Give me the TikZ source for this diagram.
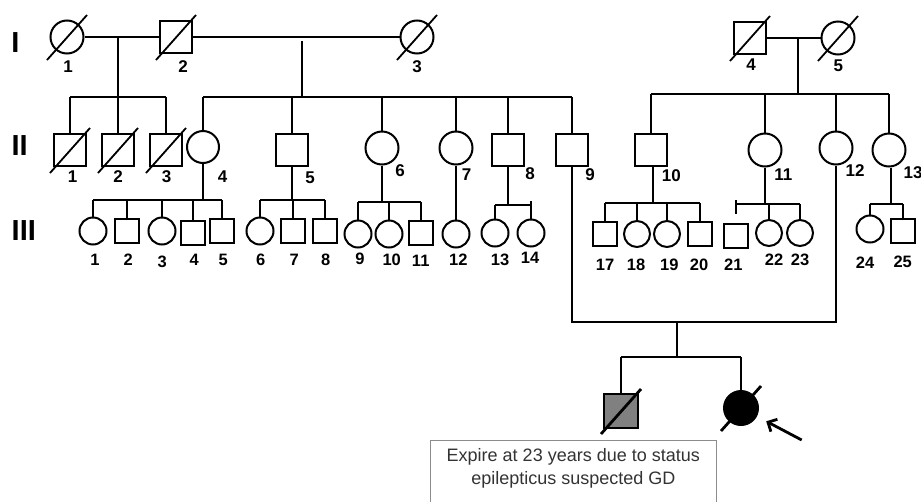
\documentclass[tikz,border=0pt]{standalone}
\usepackage{fontspec}
\setmainfont{Liberation Sans}
\usetikzlibrary{arrows.meta}
\newcommand\dslash[2][1.8pt]{\draw[line width=#1] ([shift={(-20,23)}]#2.center) -- ([shift={(20,-22)}]#2.center);}
\begin{document}
\begin{tikzpicture}[x=1pt,y=-1pt, line width=2pt,
 male/.style={draw, rectangle, minimum size=#1, inner sep=0pt},
 female/.style={draw, circle, minimum size=#1, inner sep=0pt},
 lab/.style={font=\fontsize{17}{17}\selectfont\bfseries, inner sep=0pt},
 labs/.style={font=\fontsize{16.5}{17}\selectfont\bfseries, inner sep=0pt},
 gen/.style={font=\fontsize{29}{29}\selectfont\bfseries, inner sep=0pt},
 boxline/.style={draw=black!45, line width=1pt},
 notetxt/.style={font=\fontsize{18}{22.5}\selectfont, text=black!80, align=center, inner sep=0pt},
 ]
\useasboundingbox (0,0) rectangle (921,501);

% generation labels
\node[gen] (gI) at (15.5,43) {I};
\node[gen] (gII) at (19.7,146) {II};
\node[gen] (gIII) at (23.8,231) {III};

% Generation I
\node[female=33] (I1) at (67,37) {};
\node[male=32] (I2) at (176,37) {};
\node[female=33] (I3) at (417,37) {};
\node[male=32] (I4) at (750,38) {};
\node[female=33] (I5) at (838,38) {};
\dslash{I1}\dslash{I2}\dslash{I3}\dslash{I4}\dslash{I5}
\node[lab] (tI1) at (68,67) {1};
\node[lab] (tI2) at (183,67) {2};
\node[lab] (tI3) at (417,67) {3};
\node[lab] (tI4) at (751,65) {4};
\node[lab] (tI5) at (838.3,66) {5};

% Generation II
\node[male=32] (II1) at (70,150) {};
\node[male=32] (II2) at (118,150) {};
\node[male=32] (II3) at (166,150) {};
\node[female=32] (II4) at (203,147) {};
\node[male=32] (II5) at (292,150) {};
\node[female=33] (II6) at (382,148) {};
\node[female=33] (II7) at (456,148) {};
\node[male=32] (II8) at (508,150) {};
\node[male=32] (II9) at (572,150) {};
\node[male=32] (II10) at (651,150) {};
\node[female=33] (II11) at (765,150) {};
\node[female=33] (II12) at (836,148) {};
\node[female=33] (II13) at (889,150) {};
\dslash{II1}\dslash{II2}\dslash{II3}
\node[lab] (tII1) at (72.7,177) {1};
\node[lab] (tII2) at (118,177) {2};
\node[lab] (tII3) at (166.7,177) {3};
\node[lab] (tII4) at (222.5,177) {4};
\node[lab] (tII5) at (310,177.3) {5};
\node[lab] (tII6) at (400,171) {6};
\node[lab] (tII7) at (466.7,175) {7};
\node[lab] (tII8) at (530,173.3) {8};
\node[lab] (tII9) at (590,175) {9};
\node[lab] (tII10) at (671.3,176) {10};
\node[lab] (tII11) at (783.3,174.3) {11};
\node[lab] (tII12) at (855,171) {12};
\node[lab] (tII13) at (913,173) {13};

% Generation III
\node[female=27] (III1) at (93,231) {};
\node[male=24] (III2) at (127,231) {};
\node[female=27] (III3) at (162,231) {};
\node[male=24] (III4) at (193,233) {};
\node[male=24] (III5) at (222,231) {};
\node[female=27] (III6) at (260,231) {};
\node[male=24] (III7) at (293,231) {};
\node[male=24] (III8) at (325,231) {};
\node[female=27] (III9) at (358,234) {};
\node[female=27] (III10) at (389,234) {};
\node[male=24] (III11) at (421,233) {};
\node[female=27] (III12) at (456,234) {};
\node[female=27] (III13) at (495,233) {};
\node[female=27] (III14) at (531,233) {};
\node[male=24] (III17) at (605,234) {};
\node[female=26] (III18) at (637,234) {};
\node[female=26] (III19) at (667,234) {};
\node[male=24] (III20) at (700,234) {};
\node[male=24] (III21) at (736,236) {};
\node[female=26] (III22) at (769,233) {};
\node[female=26] (III23) at (800,233) {};
\node[female=27] (III24) at (870,229) {};
\node[male=24] (III25) at (903,231) {};
\node[labs] (tIII1) at (95,260) {1};
\node[labs] (tIII2) at (128.3,260) {2};
\node[labs] (tIII3) at (162.3,262) {3};
\node[labs] (tIII4) at (194.3,260) {4};
\node[labs] (tIII5) at (223.3,260) {5};
\node[labs] (tIII6) at (260.7,260) {6};
\node[labs] (tIII7) at (294.3,260) {7};
\node[labs] (tIII8) at (325.7,260) {8};
\node[labs] (tIII9) at (360,259) {9};
\node[labs] (tIII10) at (391.7,260) {10};
\node[labs] (tIII11) at (420.7,261) {11};
\node[labs] (tIII12) at (458.3,260) {12};
\node[labs] (tIII13) at (500,260) {13};
\node[labs] (tIII14) at (530,258) {14};
\node[labs] (tIII17) at (605,265) {17};
\node[labs] (tIII18) at (636,265) {18};
\node[labs] (tIII19) at (669.3,265) {19};
\node[labs] (tIII20) at (699,265) {20};
\node[labs] (tIII21) at (733.3,265) {21};
\node[labs] (tIII22) at (774,260) {22};
\node[labs] (tIII23) at (800,260) {23};
\node[labs] (tIII24) at (865,263) {24};
\node[labs] (tIII25) at (902.7,262) {25};

% Generation IV
\node[male=34, fill=black!50] (IV1) at (621,411) {};
\node[female=34, fill=black] (IV2) at (741,408) {};
\dslash[2.8pt]{IV1}\dslash[2.8pt]{IV2}

% marriages and sibships, gen I
\draw (I1) -- (I2);
\draw (I2) -- (I3);
\draw (I4) -- (I5);
\coordinate (m12) at (118,37);
\coordinate (s12) at (118,97);
\draw (m12) -- (s12);
\draw (II1.north |- s12) -- (II3.north |- s12);
\foreach \c in {II1,II2,II3} \draw (\c.north |- s12) -- (\c.north);
\coordinate (m23) at (302,41);
\coordinate (s23) at (302,97);
\draw (m23) -- (s23);
\draw (II4.north |- s23) -- (II9.north |- s23);
\foreach \c in {II4,II5,II6,II7,II8,II9} \draw (\c.north |- s23) -- (\c.north);
\coordinate (m45) at (798,38);
\coordinate (s45) at (798,94);
\draw (m45) -- (s45);
\draw (II10.north |- s45) -- (II13.north |- s45);
\foreach \c in {II10,II11,II12,II13} \draw (\c.north |- s45) -- (\c.north);

% sibships gen III
\coordinate (s4) at (203,200);
\draw (II4.south) -- (s4);
\draw (III1.north |- s4) -- (III5.north |- s4);
\foreach \c in {III1,III2,III3,III4,III5} \draw (\c.north |- s4) -- (\c.north);
\coordinate (s5) at (292,200);
\draw (II5.south) -- (s5);
\draw (III6.north |- s5) -- (III8.north |- s5);
\foreach \c in {III6,III7,III8} \draw (\c.north |- s5) -- (\c.north);
\coordinate (s6) at (382,202);
\draw (II6.south) -- (s6);
\draw (III9.north |- s6) -- (III11.north |- s6);
\foreach \c in {III9,III10,III11} \draw (\c.north |- s6) -- (\c.north);
\draw (II7.south) -- (III12.north);
\coordinate (s8) at (508,205);
\draw (II8.south) -- (s8);
\draw (III13.north |- s8) -- (III14.north |- s8);
\draw (III13.north |- s8) -- (III13.north);
\draw ([yshift=4pt]III14.north |- s8) -- (III14.north);
\coordinate (s10) at (653,203);
\draw (II10.south -| s10) -- (s10);
\draw (III17.north |- s10) -- (III20.north |- s10);
\foreach \c in {III17,III18,III19,III20} \draw (\c.north |- s10) -- (\c.north);
\coordinate (s11) at (765,204);
\draw (II11.south) -- (s11);
\draw (III21.north |- s11) -- (III23.north |- s11);
\draw ([yshift=4pt]III21.north |- s11) -- ([yshift=9pt]III21.north);
\foreach \c in {III22,III23} \draw (\c.north |- s11) -- (\c.north);
\coordinate (s13) at (891,204);
\draw (II13.south -| s13) -- (s13);
\draw (III24.north |- s13) -- (III25.north |- s13);
\foreach \c in {III24,III25} \draw (\c.north |- s13) -- (\c.north);

% marriage II9 x II12 and children
\coordinate (m9) at (677,322);
\draw (II9.south) -- (II9.south |- m9) -- (II12.south |- m9) -- (II12.south);
\coordinate (s9) at (677,357);
\draw (m9) -- (s9);
\draw (IV1.north |- s9) -- (IV2.north |- s9);
\foreach \c in {IV1,IV2} \draw (\c.north |- s9) -- (\c.north);

% proband arrow
\coordinate (arw) at (801.7,440);
\draw[-{Straight Barb[length=7pt,width=14pt,line width=2.8pt]}, line width=2.8pt, shorten >=10.5pt] (arw) -- (IV2);

% note box
\draw[boxline] (430.5,506) |- (716.5,440.5) -- (716.5,506);
\node[notetxt] (note) at (573.3,468.5) {Expire at 23 years due to status\\epilepticus suspected GD};
\end{tikzpicture}
\end{document}
